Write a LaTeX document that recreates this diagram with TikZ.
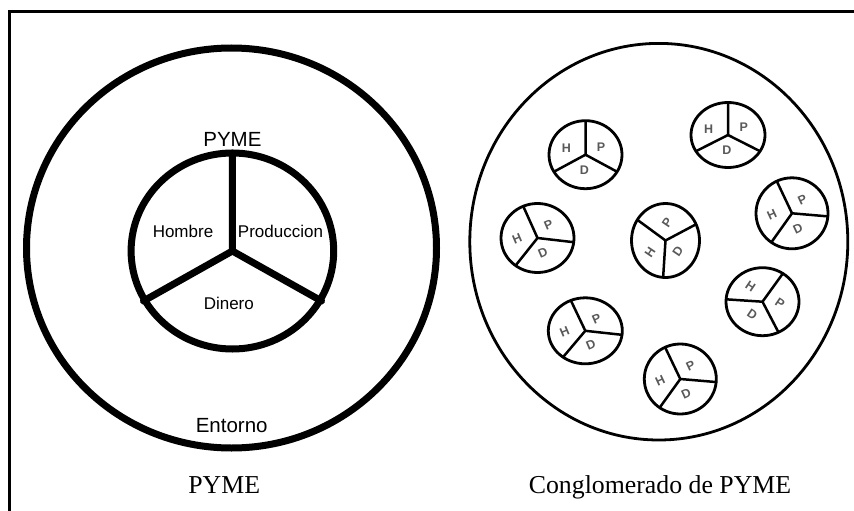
\documentclass[tikz,border=0pt]{standalone}
\usepackage{fontspec}
\setmainfont{Liberation Serif}
\newfontfamily\labelsans{Liberation Sans}

\tikzset{
  frameline/.style={line width=3pt, line join=miter},
  bigring/.style={line width=7pt},
  bigspoke/.style={line width=7pt, line cap=round},
  outerring/.style={line width=2.8pt},
  iconring/.style={line width=2.8pt},
  iconspoke/.style={line width=2.5pt},
  sanslabel/.style={inner sep=0pt, anchor=base, font=\labelsans\fontsize{17}{20}\selectfont},
  sanstitle/.style={inner sep=0pt, anchor=base, font=\labelsans\fontsize{20.5}{24}\selectfont},
  caption/.style={inner sep=0pt, anchor=base, font=\fontsize{25.8}{30}\selectfont},
  iconletter/.style={inner sep=0pt, text=black!65, font=\labelsans\bfseries\fontsize{12.5}{14}\selectfont},
}

% one small company: ring split in three sectors H / P / D
% #1,#2 centre, #3,#4 radii, #5 rotation, #6 name prefix
\newcommand{\iconpyme}[6]{%
  \begin{scope}[shift={(#1,#2)}, xscale=#3, yscale=-#4]
    \draw[iconring] (0,0) circle (1);
    \coordinate (#6-c) at (0,0);
    \coordinate (#6-a) at (#5+90:1);
    \coordinate (#6-b) at (#5+210:1);
    \coordinate (#6-e) at (#5+330:1);
    \draw[iconspoke] (#6-c) -- (#6-a) (#6-c) -- (#6-b) (#6-c) -- (#6-e);
    \node[iconletter, rotate=#5] (#6-h) at (#5+160:0.56) {H};
    \node[iconletter, rotate=#5] (#6-p) at (#5+28:0.48) {P};
    \node[iconletter, rotate=#5] (#6-d) at (#5+266:0.46) {D};
  \end{scope}}

\begin{document}
\begin{tikzpicture}[x=1pt, y=-1pt]
  \useasboundingbox (0,0) rectangle (854,511);

  % frame
  \draw[frameline] (9.5,511) -- (9.5,11.5) -- (854,11.5);

  % ---- single company in its environment ----
  \draw[bigring] (231.5,248) ellipse [x radius=205, y radius=200];
  \draw[bigring] (232.4,251) ellipse [x radius=101.3, y radius=98];
  \coordinate (hub) at (232.4,251);
  \coordinate (top) at (232.4,153);
  \coordinate (lleft) at (143.5,301);
  \coordinate (lright) at (321.5,301);
  \draw[bigspoke] (hub) -- (top) (hub) -- (lleft) (hub) -- (lright);

  \node[sanstitle] (pymetop) at (232.4,146.7) {PYME};
  \node[sanslabel] (hombre) at (183,237.3) {Hombre};
  \node[sanslabel] (produccion) at (280.5,237.3) {Produccion};
  \node[sanslabel] (dinero) at (228.8,309.3) {Dinero};
  \node[sanstitle] (entorno) at (231.7,432.7) {Entorno};

  % ---- cluster of companies ----
  \draw[outerring] (658.8,241.7) ellipse [x radius=189, y radius=198.3];
  \iconpyme{585.5}{154.7}{36.5}{34}{0}{i1}
  \iconpyme{728}{135}{37}{32.5}{0}{i2}
  \iconpyme{537.5}{238}{36.5}{34.5}{23}{i3}
  \iconpyme{792}{213.3}{36}{35.5}{25}{i4}
  \iconpyme{665.5}{240.5}{34}{37}{56}{i5}
  \iconpyme{762.5}{301.7}{36.5}{34}{-34}{i6}
  \iconpyme{585.3}{330.8}{37}{33}{23}{i7}
  \iconpyme{680.3}{379}{36}{35}{25}{i8}

  % captions
  \node[caption] (cap1) at (224.2,493.3) {PYME};
  \node[caption] (cap2) at (660,493.3) {Conglomerado de PYME};
\end{tikzpicture}
\end{document}
